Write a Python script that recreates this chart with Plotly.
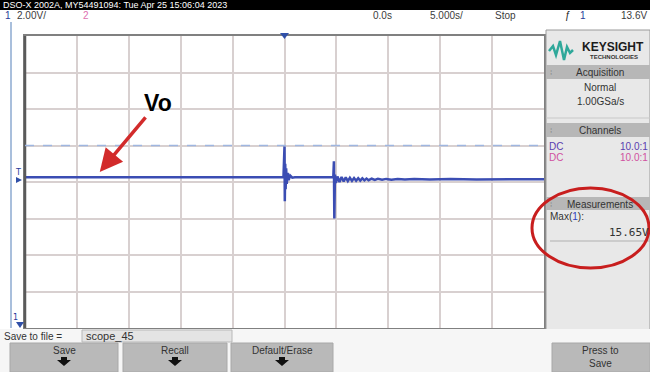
import plotly.graph_objects as go

# ---------------- data ----------------
time_s = [-25.0, -0.1, 0.0, 0.03, 0.07, 0.11, 0.16, 0.22, 0.3, 0.4,
          0.55, 0.75, 1.0, 4.7, 4.76, 4.8, 4.86, 4.95, 5.1, 5.3,
          5.5, 5.7, 5.9, 6.1, 6.3, 6.5, 6.7, 6.9, 7.1, 7.3,
          7.5, 7.7, 7.9, 8.1, 8.4, 8.7, 9.0, 9.4, 9.8, 10.3,
          10.9, 11.6, 12.5, 14.0, 16.0, 18.5, 21.0, 25.0]
volts = [11.86, 11.86, 13.55, 10.55, 12.6, 11.2, 12.35, 11.5, 12.1, 11.7,
         11.95, 11.84, 11.86, 11.86, 12.73, 9.6, 12.0, 11.55, 11.9, 11.6,
         11.87, 11.63, 11.85, 11.65, 11.83, 11.66, 11.82, 11.67, 11.81, 11.68,
         11.8, 11.69, 11.79, 11.7, 11.78, 11.71, 11.77, 11.72, 11.77, 11.73,
         11.76, 11.74, 11.76, 11.74, 11.76, 11.74, 11.75, 11.75]
trigger_level = 13.6
x_range = [-25, 25]
y_range = [3.6, 19.6]
header_title = "DSO-X 2002A, MY54491094: Tue Apr 25 15:06:04 2023"
max_value_label = "15.65V"

# ---------------- layout helpers ----------------
W, H = 650, 372
L, R, T, B = 25, 544, 36, 328


def px(x):
    return (x - L) / (R - L)


def py(y):
    return (B - y) / (B - T)


shapes = []
annotations = []
NARROW = "Liberation Sans Narrow, Liberation Sans, Arial"


def rect(x0, y0, x1, y1, fill, line=None, lw=0):
    shapes.append(dict(type="rect", xref="paper", yref="paper",
                       x0=px(x0), x1=px(x1), y0=py(y1), y1=py(y0),
                       fillcolor=fill, line=dict(color=line or fill, width=lw)))


def hline(x0, x1, y, color, width=1, dash="solid"):
    shapes.append(dict(type="line", xref="paper", yref="paper",
                       x0=px(x0), x1=px(x1), y0=py(y), y1=py(y),
                       line=dict(color=color, width=width, dash=dash)))


def vline(x, y0, y1, color, width=1):
    shapes.append(dict(type="line", xref="paper", yref="paper",
                       x0=px(x), x1=px(x), y0=py(y0), y1=py(y1),
                       line=dict(color=color, width=width)))


def path(points, fill=None, line="rgba(0,0,0,0)", lw=0, close=True):
    s = "M " + " L ".join(f"{px(a):.5f},{py(b):.5f}" for a, b in points)
    if close:
        s += " Z"
    shapes.append(dict(type="path", xref="paper", yref="paper", path=s,
                       fillcolor=fill if fill else "rgba(0,0,0,0)",
                       line=dict(color=line, width=lw)))


def txt(x, y, s, size=10, color="#3c3c3c", anchor="left", family=NARROW):
    annotations.append(dict(xref="paper", yref="paper", x=px(x), y=py(y),
                            text=s, showarrow=False, xanchor=anchor,
                            yanchor="middle", borderpad=0,
                            font=dict(size=size, color=color, family=family)))


# ---------------- header ----------------
rect(0, 0, 650, 10, "#000000")
txt(2, 5, header_title, size=9, color="#ffffff")
rect(0, 10, 650, 22, "#ffffff")
txt(4, 16, "1", size=10, color="#2a3a9a")
txt(16, 16, "2.00V/", size=10)
txt(82, 16, "2", size=10, color="#e070b0")
txt(382, 16, "0.0s", size=10, anchor="center")
txt(446, 16, "5.000s/", size=10, anchor="center")
txt(505, 16, "Stop", size=10, anchor="center")
txt(568, 16, "ƒ", size=10, anchor="center", color="#222")
txt(583, 16, "1", size=10, anchor="center", color="#2a3a9a")
txt(648, 16, "13.6V", size=10, anchor="right")

# left strip
vline(11, 22, 328, "#a9bfdc", 2)
vline(L, T, B, "#5a5a5a", 2.5)

# trigger level dashed line
shapes.append(dict(type="line", xref="paper", yref="y", x0=0, x1=1,
                   y0=trigger_level, y1=trigger_level,
                   line=dict(color="#9fb6e0", width=1.5, dash="dash")))

# markers on graticule
path([(280, 33), (289, 33), (284.5, 39)], fill="#3050a8")
txt(18, 172, "T", size=8, color="#2a3a9a", anchor="center", family="DejaVu Sans")
path([(16, 177), (22, 180), (16, 183)], fill="#3050a8")
txt(15, 317, "1", size=8, color="#2a3a9a", anchor="center", family="DejaVu Sans")
path([(16, 322), (24, 322), (20, 328)], fill="#3050a8")

# ---------------- right panel ----------------
rect(546, 30, 650, 330, "#e8e8e8", "#9a9a9a", 1)
# logo
path([(549, 51), (553, 46), (556, 55), (560, 41), (564, 60), (567, 47),
      (570, 53), (573, 50)], line="#2fa89a", lw=2.5, close=False)
txt(613, 47, "<b>KEYSIGHT</b>", size=12, color="#1c1c1c", anchor="center",
    family="Liberation Sans, Arial")
txt(614, 57, "<b>TECHNOLOGIES</b>", size=6, color="#333", anchor="center",
    family="Liberation Sans, Arial")

rect(546, 65, 650, 79, "#b7b7b7")
txt(549, 72, "⁞", size=8, color="#888")
txt(600, 72, "Acquisition", size=10, anchor="center", color="#333")
txt(600, 87, "Normal", size=10, anchor="center", color="#333")
txt(600, 101, "1.00GSa/s", size=10, anchor="center", color="#333")
hline(546, 650, 118, "#c8c8c8", 1)

rect(546, 123, 650, 137, "#b7b7b7")
txt(549, 130, "⁞", size=8, color="#888")
txt(600, 130, "Channels", size=10, anchor="center", color="#333")
txt(548, 146, "DC", size=10, color="#5a3db0")
txt(649, 146, "10.0:1", size=10, color="#5a3db0", anchor="right")
txt(548, 157, "DC", size=10, color="#d050a0")
txt(649, 157, "10.0:1", size=10, color="#d050a0", anchor="right")

rect(546, 197, 650, 210, "#b7b7b7")
txt(549, 204, "⁞", size=8, color="#888")
txt(600, 204, "Measurements", size=10, anchor="center", color="#333")
txt(549, 217, "Max(<span style='color:#3040c0'>1</span>):", size=10, color="#333")
txt(650, 233, max_value_label, size=11, color="#333", anchor="right",
    family="DejaVu Sans Mono, Liberation Mono")
hline(550, 650, 241, "#b0b0b0", 1)

# red ellipse
shapes.append(dict(type="circle", xref="paper", yref="paper",
                   x0=px(532), x1=px(649), y0=py(268), y1=py(188),
                   line=dict(color="#c81e1e", width=3)))

# ---------------- bottom ----------------
rect(0, 329, 650, 372, "#f6f6f6")
txt(3, 336, "Save to file =", size=10, color="#333")
rect(82, 330, 232, 342, "#e4e4e4", "#b8b8b8", 1)
txt(85, 336, "scope_45", size=11, color="#333")

buttons = [(10, 118, "Save"), (123, 227, "Recall"), (231, 333, "Default/Erase")]
for x0, x1, lab in buttons:
    rect(x0, 343, x1, 372, "#b9b9b9", "#a8a8a8", 1)
    cx = (x0 + x1) / 2
    txt(cx, 350, lab, size=10, color="#333", anchor="center")
    path([(cx - 3, 357), (cx + 3, 357), (cx + 3, 360), (cx + 7, 360),
          (cx, 366), (cx - 7, 360), (cx - 3, 360)], fill="#111111")
rect(552, 343, 650, 372, "#b9b9b9", "#a8a8a8", 1)
txt(600, 350, "Press to", size=10, color="#333", anchor="center")
txt(600, 363, "Save", size=10, color="#333", anchor="center")

# ---------------- annotation "Vo" ----------------
annotations.append(dict(xref="x", yref="y", x=-17.8, y=12.15,
                        text="<b>Vo</b>", showarrow=True, ax=58, ay=-69,
                        arrowhead=2, arrowsize=1.3, arrowwidth=3.5,
                        arrowcolor="#d22b2b", standoff=0,
                        font=dict(size=23, color="#000000",
                                  family="Liberation Sans, Arial")))

# ---------------- figure ----------------
fig = go.Figure()
fig.add_trace(go.Scatter(x=time_s, y=volts, mode="lines",
                         line=dict(color="#3b4db3", width=2.5),
                         hoverinfo="skip", showlegend=False))

axis_common = dict(showticklabels=False, ticks="", zeroline=False,
                   showline=True, linecolor="#808080", linewidth=1.5,
                   mirror=True, gridcolor="#d8d0d0", gridwidth=1.5)
fig.update_layout(
    width=W, height=H,
    margin=dict(l=L, r=W - R, t=T, b=H - B, pad=0),
    paper_bgcolor="#ffffff", plot_bgcolor="#ffffff",
    xaxis=dict(range=x_range, tick0=-25, dtick=5, **axis_common),
    yaxis=dict(range=y_range, tick0=3.6, dtick=2, **axis_common),
    shapes=shapes, annotations=annotations, showlegend=False,
)
fig.write_html("out.html")
